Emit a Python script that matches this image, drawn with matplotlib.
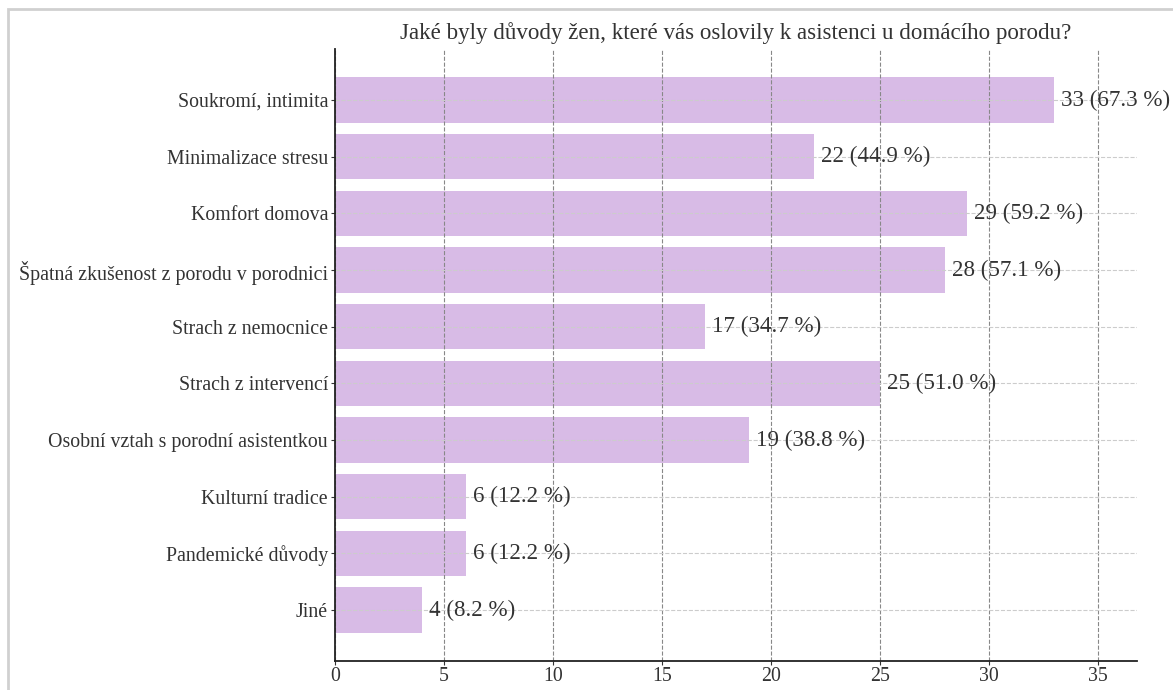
import matplotlib.pyplot as plt
from matplotlib.patches import Rectangle

# Reasons for home birth assistance (answers from 49 respondents)
reasons = [
    "Soukromí, intimita",
    "Minimalizace stresu",
    "Komfort domova",
    "Špatná zkušenost z porodu v porodnici",
    "Strach z nemocnice",
    "Strach z intervencí",
    "Osobní vztah s porodní asistentkou",
    "Kulturní tradice",
    "Pandemické důvody",
    "Jiné",
]
counts = [33, 22, 29, 28, 17, 25, 19, 6, 6, 4]
percents = [67.3, 44.9, 59.2, 57.1, 34.7, 51.0, 38.8, 12.2, 12.2, 8.2]

plt.rcParams['font.family'] = ['Liberation Serif', 'DejaVu Serif']
text_color = '#333333'

fig = plt.figure(figsize=(11.73, 6.9), dpi=100)
ax = fig.add_axes([0.2856, 0.042, 0.6837, 0.887])

ypos = list(range(len(reasons)))
ax.barh(ypos, counts, height=0.8, color='#d8bbe6')

for y, c, p in zip(ypos, counts, percents):
    ax.annotate(f"{c} ({p:.1f} %)", (c, y), xytext=(5, 0), textcoords='offset points',
                va='center', ha='left', fontsize=16.6, color=text_color)

ax.set_yticks(ypos)
ax.set_yticklabels(reasons)
ax.set_ylim(9.9, -0.9)
ax.set_xlim(0, 36.8)
ax.set_xticks([0, 5, 10, 15, 20, 25, 30, 35])

ax.grid(axis='x', linestyle='--', color='#888888', linewidth=0.8)
ax.grid(axis='y', linestyle='--', color='#cccccc', linewidth=0.8)

ax.spines['top'].set_visible(False)
ax.spines['right'].set_visible(False)
for s in ('left', 'bottom'):
    ax.spines[s].set_color('#222222')
    ax.spines[s].set_linewidth(1.3)
ax.tick_params(labelsize=14.3, colors=text_color, length=3, pad=2)
ax.tick_params(axis='x', pad=1)

ax.set_title("Jaké byly důvody žen, které vás oslovily k asistenci u domácího porodu?",
             fontsize=16.6, color=text_color, pad=7)

# light frame around the whole figure
fig.patches.append(Rectangle((8 / 1173, -0.1), 1.2, 1 - 9 / 690 + 0.1, transform=fig.transFigure,
                             fill=False, edgecolor='#d0d0d0', linewidth=2))

fig.savefig("out.png", dpi=100)
